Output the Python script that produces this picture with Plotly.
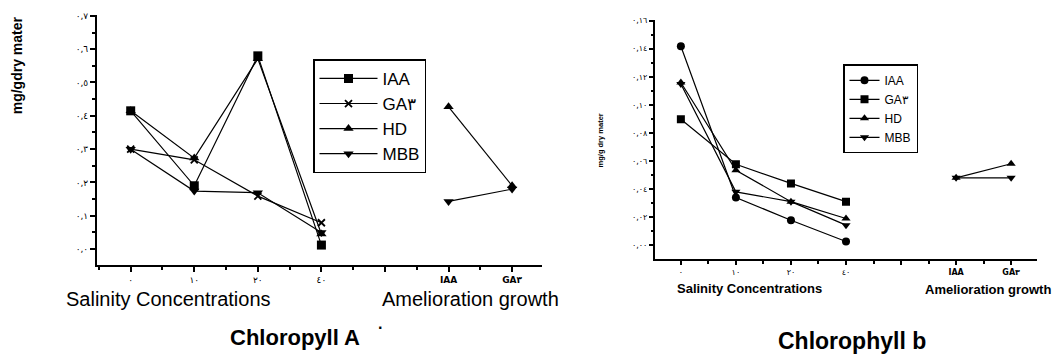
import plotly.graph_objects as go

# ---------------- data ----------------
series = ["IAA", "GA٣", "HD", "MBB"]
sal_positions = [0, 1, 2, 3]
amel_positions = [5, 6]
sal_ticktext = ["٠", "١٠", "٢٠", "٤٠"]
amel_ticktext = ["IAA", "GA٣"]

# Chlorophyll A
a_sal = {
    "IAA": [0.415, 0.190, 0.580, 0.012],
    "GA٣": [0.300, 0.268, 0.159, 0.079],
    "HD":  [0.415, 0.273, 0.571, 0.045],
    "MBB": [0.300, 0.174, 0.169, 0.050],
}
a_amel = {"HD": [0.427, 0.190], "MBB": [0.143, 0.180]}

# Chlorophyll b
b_sal = {
    "IAA": [0.1417, 0.034, 0.0178, 0.0026],
    "GA٣": [0.0897, 0.0576, 0.044, 0.031],
    "HD":  [0.1159, 0.0534, 0.031, 0.019],
    "MBB": [0.1148, 0.038, 0.031, 0.0143],
}
b_amel = {"HD": [0.048, 0.058], "MBB": [0.048, 0.048]}

a_yticks = [0, 0.1, 0.2, 0.3, 0.4, 0.5, 0.6, 0.7]
a_yticktext = ["٠,٠", "٠,١", "٠,٢", "٠,٣", "٠,٤", "٠,٥", "٠,٦", "٠,٧"]
b_yticks = [0, 0.02, 0.04, 0.06, 0.08, 0.10, 0.12, 0.14, 0.16]
b_yticktext = ["٠,٠٠", "٠,٠٢", "٠,٠٤", "٠,٠٦", "٠,٠٨", "٠,١٠", "٠,١٢", "٠,١٤", "٠,١٦"]

a_symbols = {"IAA": "square", "GA٣": "x-thin", "HD": "triangle-up", "MBB": "triangle-down"}
b_symbols = {"IAA": "circle", "GA٣": "square", "HD": "triangle-up", "MBB": "triangle-down"}

W, H = 1056, 358
fig = go.Figure()


def add_series(sal, amel, symbols, xa, ya, legend, msize):
    for s in series:
        xs = list(sal_positions)
        ys = list(sal[s])
        if s in amel:
            xs += [4] + amel_positions
            ys += [None] + amel[s]
        sym = symbols[s]
        fig.add_trace(go.Scatter(
            x=xs, y=ys, mode="lines+markers", name=s,
            xaxis=xa, yaxis=ya, legend=legend, connectgaps=False,
            line=dict(color="black", width=1.2),
            marker=dict(symbol=sym, size=msize if sym != "x-thin" else msize - 2,
                        color="black",
                        line=dict(color="black", width=1.8 if sym == "x-thin" else 0)),
        ))


add_series(a_sal, a_amel, a_symbols, "x", "y", "legend", 9)
add_series(b_sal, b_amel, b_symbols, "x2", "y2", "legend2", 8)


def px_x(v):
    return v / W


def px_y(v):
    return 1 - v / H


tickfont = dict(family="DejaVu Sans, Arial", size=9, color="black")
common_axis = dict(showline=True, linecolor="black", linewidth=2, ticks="outside",
                   tickcolor="black", tickwidth=1.5, showgrid=False, zeroline=False,
                   mirror=False)

fig.update_layout(
    width=W, height=H, margin=dict(l=0, r=0, t=0, b=0),
    paper_bgcolor="white", plot_bgcolor="white",
    xaxis=dict(domain=[px_x(97), px_x(542)], range=[-0.53, 6.47], anchor="y",
               tickvals=sal_positions + [4] + amel_positions,
               ticktext=sal_ticktext + [""] + ["<b>" + t + "</b>" for t in amel_ticktext],
               ticklen=5, tickfont=tickfont,
               minor=dict(dtick=0.5, tick0=0, ticklen=3, ticks="outside", tickcolor="black"),
               **common_axis),
    yaxis=dict(domain=[px_y(264), px_y(11)], range=[-0.048, 0.703], anchor="x",
               tickvals=a_yticks, ticktext=a_yticktext, ticklen=5, tickfont=tickfont,
               minor=dict(dtick=0.05, tick0=0, ticklen=3, ticks="outside", tickcolor="black"),
               **common_axis),
    xaxis2=dict(domain=[px_x(655), px_x(1037)], range=[-0.47, 6.47], anchor="y2",
                tickvals=sal_positions + [4] + amel_positions,
                ticktext=sal_ticktext + [""] + ["<b>" + t + "</b>" for t in amel_ticktext],
                ticklen=4, tickfont=dict(family="DejaVu Sans, Arial", size=8, color="black"),
                minor=dict(dtick=0.5, tick0=0, ticklen=2.5, ticks="outside", tickcolor="black"),
                **common_axis),
    yaxis2=dict(domain=[px_y(258), px_y(16)], range=[-0.0099, 0.1605], anchor="x2",
                tickvals=b_yticks, ticktext=b_yticktext, ticklen=4,
                tickfont=dict(family="DejaVu Sans, Arial", size=8, color="black"),
                minor=dict(dtick=0.01, tick0=0, ticklen=2.5, ticks="outside", tickcolor="black"),
                **common_axis),
    legend=dict(x=px_x(313), y=px_y(56), xanchor="left", yanchor="top",
                bordercolor="black", borderwidth=1.5, bgcolor="white",
                font=dict(family="Arial, Liberation Sans", size=17, color="black"),
                itemwidth=58, tracegroupgap=0),
    legend2=dict(x=px_x(843), y=px_y(61), xanchor="left", yanchor="top",
                 bordercolor="black", borderwidth=1.5, bgcolor="white",
                 font=dict(family="Arial, Liberation Sans", size=12, color="black"),
                 tracegroupgap=0),
    showlegend=True,
)

ann_font = "Arial, Liberation Sans"
annotations = [
    dict(text="Salinity Concentrations", x=px_x(168), y=px_y(298), size=20, bold=False),
    dict(text="Amelioration growth", x=px_x(470), y=px_y(298), size=20, bold=False),
    dict(text="Chloropyll A", x=px_x(295), y=px_y(337), size=22, bold=True),
    dict(text="·", x=px_x(380), y=px_y(327), size=16, bold=True),
    dict(text="Salinity Concentrations", x=px_x(749), y=px_y(288), size=13, bold=True),
    dict(text="Amelioration growth", x=px_x(988), y=px_y(289), size=13, bold=True),
    dict(text="Chlorophyll b", x=px_x(852), y=px_y(341), size=23, bold=True),
]
for a in annotations:
    t = "<b>" + a["text"] + "</b>" if a["bold"] else a["text"]
    fig.add_annotation(text=t, x=a["x"], y=a["y"], xref="paper", yref="paper",
                       showarrow=False, xanchor="center", yanchor="middle",
                       font=dict(family=ann_font, size=a["size"], color="black"))

fig.add_annotation(text="<b>mg/gdry mater</b>", x=px_x(17), y=px_y(62), xref="paper", yref="paper",
                   showarrow=False, textangle=-90, xanchor="center", yanchor="middle",
                   font=dict(family=ann_font, size=14, color="black"))
fig.add_annotation(text="<b>mg/g dry mater</b>", x=px_x(600), y=px_y(138), xref="paper", yref="paper",
                   showarrow=False, textangle=-90, xanchor="center", yanchor="middle",
                   font=dict(family=ann_font, size=7.5, color="black"))

fig.write_html("out.html")
